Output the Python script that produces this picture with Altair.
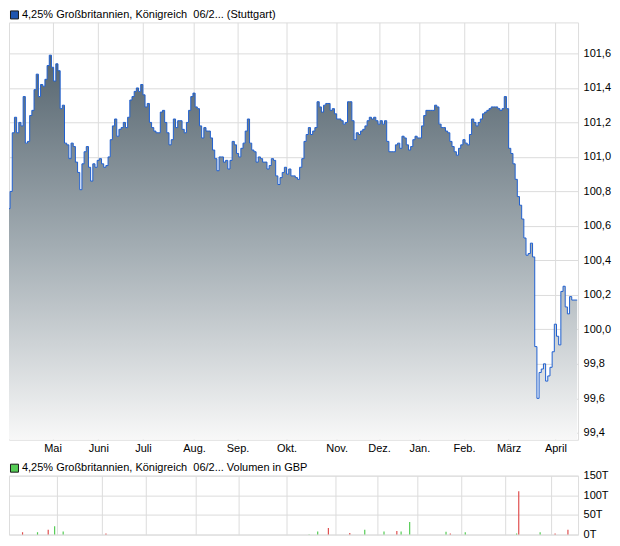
import altair as alt
import pandas as pd

# ---------------- data ----------------
prices = [
    100.70, 100.80, 101.14, 101.23, 101.14, 101.20, 101.18, 101.35, 101.08, 101.09,
    101.24, 101.27, 101.39, 101.48, 101.35, 101.42, 101.41, 101.45, 101.53, 101.59,
    101.52, 101.44, 101.54, 101.50, 101.28, 101.30, 101.08, 101.07, 100.99, 101.08,
    101.06, 100.97, 100.91, 100.81, 100.96, 101.03, 101.06, 100.94, 100.86, 100.96,
    100.94, 100.98, 100.99, 100.96, 100.94, 100.95, 101.00, 101.10, 101.18, 101.22,
    101.12, 101.16, 101.17, 101.20, 101.17, 101.23, 101.33, 101.35, 101.38, 101.40,
    101.38, 101.42, 101.36, 101.29, 101.31, 101.20, 101.17, 101.15, 101.14, 101.14,
    101.26, 101.27, 101.20, 101.14, 101.07, 101.10, 101.22, 101.17, 101.21, 101.21,
    101.16, 101.14, 101.20, 101.27, 101.35, 101.37, 101.29, 101.28, 101.18, 101.11,
    101.17, 101.15, 101.15, 101.11, 101.04, 100.99, 100.92, 101.00, 101.00, 100.97,
    100.98, 100.93, 100.98, 101.09, 101.07, 101.02, 101.00, 101.05, 101.08, 101.15,
    101.22, 101.08, 101.04, 101.03, 100.97, 101.00, 100.99, 100.97, 100.97, 100.93,
    100.95, 100.99, 100.98, 100.89, 100.84, 100.88, 100.91, 100.94, 100.90, 100.93,
    100.89, 100.89, 100.88, 100.87, 100.94, 100.99, 101.09, 101.13, 101.17, 101.13,
    101.15, 101.17, 101.32, 101.29, 101.26, 101.30, 101.31, 101.31, 101.27, 101.28,
    101.25, 101.22, 101.22, 101.21, 101.19, 101.20, 101.32, 101.32, 101.21, 101.10,
    101.14, 101.13, 101.15, 101.16, 101.18, 101.21, 101.23, 101.22, 101.23, 101.21,
    101.19, 101.21, 101.19, 101.21, 101.09, 101.03, 101.03, 101.03, 101.07, 101.08,
    101.05, 101.12, 101.11, 101.07, 101.04, 101.06, 101.10, 101.12, 101.11, 101.11,
    101.18, 101.24, 101.27, 101.27, 101.27, 101.27, 101.30, 101.29, 101.19, 101.17,
    101.17, 101.15, 101.14, 101.09, 101.06, 101.03, 101.01, 101.05, 101.07, 101.10,
    101.08, 101.07, 101.13, 101.22, 101.20, 101.18, 101.20, 101.22, 101.25, 101.26,
    101.27, 101.28, 101.29, 101.29, 101.29, 101.28, 101.27, 101.28, 101.35, 101.28,
    101.05, 101.02, 100.96, 100.87, 100.77, 100.72, 100.64, 100.53, 100.43, 100.44,
    100.50, 100.42, 99.90, 99.60, 99.75, 99.77, 99.80, 99.70, 99.73, 99.78,
    99.87, 100.03, 99.96, 99.91, 100.22, 100.25, 100.13, 100.09, 100.19, 100.17,
    100.17, 100.17,
]

month_pos = [20, 41, 61.5, 85, 105, 127.5, 150.5, 170, 188.5, 209, 229.5, 251]
month_names = ["Mai", "Juni", "Juli", "Aug.", "Sep.", "Okt.", "Nov.", "Dez.",
               "Jan.", "Feb.", "März", "April"]
price_ticks = [99.4, 99.6, 99.8, 100.0, 100.2, 100.4, 100.6, 100.8,
               101.0, 101.2, 101.4, 101.6]
price_domain = [99.36, 101.78]

vol_up_day = [11, 19, 23, 138, 142, 164, 173, 181, 185, 202, 211, 235, 246]
vol_up = [6000, 21000, 8000, 1000, 8000, 12000, 8000, 8000, 32000, 7000, 6000, 3000, 6000]
vol_down_day = [4, 16, 43, 147, 157, 179, 204, 236, 253, 259]
vol_down = [6000, 12000, 3000, 17000, 4000, 9000, 3000, 110000, 3000, 12000]
vol_ticks = [0, 50000, 100000, 150000]

SERIES = "4,25% Großbritannien, Königreich\u00a0\u00a006/2...\u00a0(Stuttgart)"
VOL_SERIES = "4,25% Großbritannien, Königreich\u00a0\u00a006/2...\u00a0Volumen in GBP"

FONT = "Liberation Sans"
GRID = "#dcdcdc"
X_DOMAIN = [0, 261.4]

df = pd.DataFrame({"day": list(range(len(prices))), "price": prices, "series": SERIES})
df_up = pd.DataFrame({"day": vol_up_day, "vol": vol_up, "series": VOL_SERIES})
df_down = pd.DataFrame({"day": vol_down_day, "vol": vol_down})

pos_arr = "[" + ",".join(str(p) for p in month_pos) + "]"
name_arr = "[" + ",".join("'" + n + "'" for n in month_names) + "]"
month_expr = f"{name_arr}[indexof({pos_arr}, datum.value)]"

x_scale = alt.Scale(domain=X_DOMAIN, nice=False, zero=False)

x_main = alt.X("day:Q", scale=x_scale,
               axis=alt.Axis(values=month_pos, labelExpr=month_expr, title=None,
                             grid=True, gridColor=GRID, ticks=False, domain=False,
                             labelPadding=3, labelFlush=False, labelOverlap=False,
                             labelFont=FONT, labelFontSize=11, labelColor="#000"))
y_main = alt.Y("price:Q", scale=alt.Scale(domain=price_domain, nice=False, zero=False),
               axis=alt.Axis(orient="right", values=price_ticks,
                             labelExpr="replace(format(datum.value, '.1f'), '.', ',')",
                             title=None, ticks=False, domain=False, labelPadding=5,
                             grid=True, gridColor=GRID, labelFont=FONT, labelFontSize=11,
                             labelColor="#000"))

gradient = alt.Gradient(
    gradient="linear",
    stops=[alt.GradientStop(color="#56656f", offset=0),
           alt.GradientStop(color="#a3adb3", offset=0.5),
           alt.GradientStop(color="#f8f8f8", offset=1)],
    x1=1, x2=1, y1=0, y2=1,
)


def legend(y):
    return alt.Legend(title=None, orient="none", legendX=0, legendY=y,
                      symbolType="square", symbolSize=64, symbolStrokeColor="#1a1a1a",
                      symbolStrokeWidth=1, labelFont=FONT, labelFontSize=11,
                      labelColor="#000", labelLimit=600, labelOffset=2, padding=0)


area = alt.Chart(df).mark_area(interpolate="step", color=gradient, clip=True).encode(
    x=x_main, y=y_main, y2=alt.datum(price_domain[0])
)
line = alt.Chart(df).mark_line(interpolate="step", strokeWidth=1, clip=True).encode(
    x=x_main, y=y_main,
    stroke=alt.Stroke("series:N", scale=alt.Scale(range=["#1f5fd0"]), legend=None),
)
# legend carrier: the series key square drawn via fill channel
key = alt.Chart(df.head(1)).mark_square(opacity=0, size=0).encode(
    x=x_main, y=y_main,
    fill=alt.Fill("series:N", scale=alt.Scale(range=["#1f55b0"]), legend=legend(-13)),
)
main = alt.layer(area, line, key).properties(width=570, height=418)

x_vol = alt.X("day:Q", scale=x_scale,
              axis=alt.Axis(values=month_pos, labels=False, title=None, grid=True,
                            gridColor=GRID, ticks=False, domain=False))
y_vol = alt.Y("vol:Q", scale=alt.Scale(domain=[0, 150000], nice=False),
              axis=alt.Axis(orient="right", values=vol_ticks,
                            labelExpr="(datum.value / 1000) + 'T'", title=None, ticks=False,
                            domain=False, labelPadding=5, grid=True, gridColor=GRID,
                            labelFont=FONT, labelFontSize=11, labelColor="#000"))

up_bars = alt.Chart(df_up).mark_bar(size=1.2).encode(
    x=x_vol, y=y_vol,
    fill=alt.Fill("series:N", scale=alt.Scale(range=["#55cc55"]), legend=legend(-13)),
)
down_bars = alt.Chart(df_down).mark_bar(size=1.2, color="#e05050").encode(x=x_vol, y=y_vol)
vol = alt.layer(up_bars, down_bars).properties(width=570, height=59)

chart = alt.vconcat(main, vol, spacing=7).resolve_scale(
    fill="independent"
).resolve_legend(fill="independent").properties(
    padding={"left": 0, "top": 0, "right": 0, "bottom": 0}
).configure_legend(symbolOpacity=1).configure_view(stroke="#cccccc").configure(background="white")

chart.save("out.html", embed_options={"renderer": "svg", "actions": False})
